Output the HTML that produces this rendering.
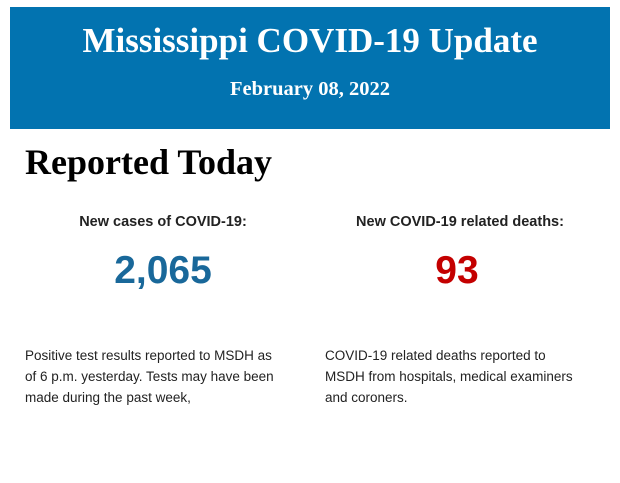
<!DOCTYPE html>
<html><head><meta charset="utf-8"><style>
body{margin:0;width:620px;height:483px;background:#fff;position:relative;overflow:hidden}
.banner{position:absolute;left:10px;top:7px;width:600px;height:122px;background:#0273b0}
.t{position:absolute;left:0;width:600px;text-align:center;color:#fff;font-family:"Liberation Serif",serif;font-weight:bold;white-space:nowrap}
.a{position:absolute;font-family:"Liberation Sans",sans-serif;white-space:nowrap}
</style></head><body>
<div class="banner">
<div class="t" style="top:14px;font-size:35px">Mississippi COVID-19 Update</div>
<div class="t" style="top:71px;font-size:20.5px">February 08, 2022</div>
</div>
<div class="a" style="left:25px;top:141px;font-family:'Liberation Serif',serif;font-weight:bold;font-size:36px;color:#000">Reported Today</div>
<div class="a" style="left:13px;width:300px;text-align:center;top:214px;font-size:14.5px;font-weight:bold;color:#222">New cases of COVID-19:</div>
<div class="a" style="left:310px;width:300px;text-align:center;top:214px;font-size:14.5px;font-weight:bold;color:#222">New COVID-19 related deaths:</div>
<div class="a" style="left:13px;width:300px;text-align:center;top:249px;font-size:39px;font-weight:bold;color:#19689a">2,065</div>
<div class="a" style="left:307px;width:300px;text-align:center;top:249px;font-size:39px;font-weight:bold;color:#c40000">93</div>
<div class="a" style="left:25px;top:345px;font-size:13.5px;line-height:21px;color:#222">Positive test results reported to MSDH as<br>of 6 p.m. yesterday. Tests may have been<br>made during the past week,</div>
<div class="a" style="left:325px;top:345px;font-size:13.5px;line-height:21px;color:#222">COVID-19 related deaths reported to<br>MSDH from hospitals, medical examiners<br>and coroners.</div>
</body></html>
